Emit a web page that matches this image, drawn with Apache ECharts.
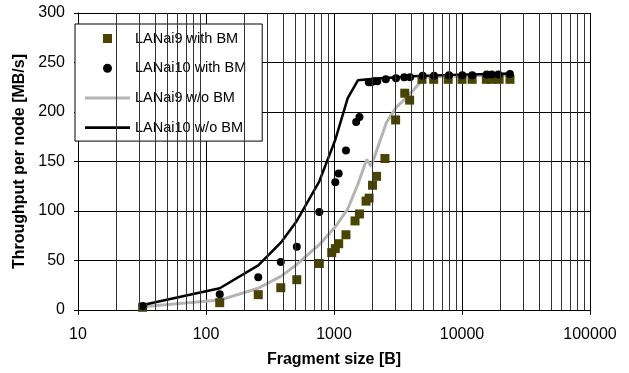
<!DOCTYPE html>
<html>
<head>
  <meta charset="utf-8">
  <script src="https://cdn.jsdelivr.net/npm/echarts@6/dist/echarts.min.js"></script>
  <style>
    html, body { margin: 0; padding: 0; background: #fff; }
    #main { width: 629px; height: 373px; }
  </style>
</head>
<body>
<div id="main"></div>
<script>
  // fragment size [B] / throughput [MB/s]
  const lanai9BmX = [32, 128, 256, 384, 512, 768, 960, 1024, 1088, 1240, 1460, 1580, 1780, 1880, 2000, 2150, 2500, 3030, 3570, 3900, 4870, 6010, 7800, 10000, 12000, 15500, 17000, 19500, 23700];
  const lanai9BmY = [2.7, 7.4, 15.5, 22.5, 30.6, 47, 58, 62, 67, 76, 90, 97, 110, 113, 126, 135, 153, 192, 219, 212, 233, 233, 233, 233, 233, 233, 233, 233, 233];

  const lanai10BmX = [32, 128, 256, 384, 512, 768, 1024, 1088, 1240, 1490, 1580, 1870, 1950, 2050, 2180, 2540, 3050, 3540, 3930, 4930, 6040, 7910, 10050, 12030, 15590, 17060, 19230, 23700];
  const lanai10BmY = [4, 16, 33, 48.5, 64, 99, 129, 138, 161, 190, 195, 230, 230, 231, 231, 233, 234, 235, 235, 236.5, 236.5, 237, 237, 237, 238, 238, 238, 238.5];

  const lanai9NoBmX = [32, 128, 256, 384, 512, 768, 1024, 1280, 1536, 1800, 1950, 2560, 3072, 3584, 4096, 5120, 8192, 16384, 24576];
  const lanai9NoBmY = [3.4, 10, 22, 34, 46, 66, 84, 102, 127, 152, 145, 189, 205, 213, 221, 235, 236, 237, 237];

  const lanai10NoBmX = [32, 128, 256, 384, 512, 768, 1024, 1280, 1536, 2048, 4096, 8192, 16384, 24576];
  const lanai10NoBmY = [5, 22, 45, 68, 90, 130, 172, 214, 232, 233.5, 236, 237.5, 238.5, 239];

  const seriesNames = ['LANai9 with BM', 'LANai10 with BM', 'LANai9 w/o BM', 'LANai10 w/o BM'];
  const minorGrid = [20, 30, 40, 50, 60, 70, 80, 90, 200, 300, 400, 500, 600, 700, 800, 900,
    2000, 3000, 4000, 5000, 6000, 7000, 8000, 9000, 20000, 30000, 40000, 50000, 60000, 70000, 80000, 90000];

  const pairs = (xs, ys) => xs.map((x, i) => [x, ys[i]]);
  const font = 'Liberation Sans, Arial, sans-serif';

  const myChart = echarts.init(document.getElementById('main'));
  myChart.setOption({
    animation: false,
    textStyle: { fontFamily: font, color: '#000' },
    grid: { left: 78, right: 39, top: 13, bottom: 63 },
    legend: {
      orient: 'vertical',
      left: 75,
      top: 24,
      padding: [7, 16, 6, 10],
      itemWidth: 45,
      itemHeight: 9,
      itemGap: 14.7,
      symbolKeepAspect: true,
      selectedMode: false,
      backgroundColor: '#fff',
      borderColor: '#000',
      borderWidth: 1,
      borderRadius: 0,
      textStyle: { fontFamily: font, fontSize: 14.5, color: '#000', lineHeight: 14 },
      data: [
        { name: seriesNames[0], icon: 'path://M0,0h10v10h-10z' },
        { name: seriesNames[1], icon: 'circle' },
        { name: seriesNames[2], icon: 'path://M0,0h45v3h-45z' },
        { name: seriesNames[3], icon: 'path://M0,0h45v2.6h-45z' }
      ]
    },
    xAxis: {
      type: 'log',
      logBase: 10,
      min: 10,
      max: 100000,
      name: 'Fragment size [B]',
      nameLocation: 'middle',
      nameGap: 42,
      nameTextStyle: { fontFamily: font, fontSize: 16, fontWeight: 'bold', color: '#000' },
      axisLine: { lineStyle: { color: '#000', width: 1 } },
      axisTick: { show: true, length: 5, lineStyle: { color: '#000' } },
      axisLabel: { fontFamily: font, fontSize: 16, color: '#000', margin: 17, formatter: v => String(Math.round(v)) },
      splitLine: { show: true, lineStyle: { color: '#000', width: 1 } }
    },
    yAxis: {
      type: 'value',
      min: 0,
      max: 300,
      interval: 50,
      name: 'Throughput per node [MB/s]',
      nameLocation: 'middle',
      nameGap: 46,
      nameTextStyle: { fontFamily: font, fontSize: 16, fontWeight: 'bold', color: '#000' },
      axisLine: { show: true, lineStyle: { color: '#000', width: 1 } },
      axisTick: { show: true, length: 4, lineStyle: { color: '#000' } },
      axisLabel: { fontFamily: font, fontSize: 16, color: '#000', margin: 13 },
      splitLine: { show: true, lineStyle: { color: '#000', width: 1 } }
    },
    series: [
      {
        // minor log grid lines
        name: 'minor',
        type: 'line',
        data: [],
        z: 1,
        silent: true,
        markLine: {
          silent: true,
          symbol: ['none', 'none'],
          label: { show: false },
          lineStyle: { color: '#333', width: 1, type: 'solid' },
          emphasis: { disabled: true },
          data: minorGrid.map(v => ({ xAxis: v }))
        }
      },
      {
        name: seriesNames[2],
        type: 'line',
        data: pairs(lanai9NoBmX, lanai9NoBmY),
        symbol: 'none',
        showSymbol: false,
        lineStyle: { color: '#b4b4b4', width: 3 },
        itemStyle: { color: '#b4b4b4' },
        z: 3
      },
      {
        name: seriesNames[3],
        type: 'line',
        data: pairs(lanai10NoBmX, lanai10NoBmY),
        symbol: 'none',
        showSymbol: false,
        lineStyle: { color: '#000', width: 2.5 },
        itemStyle: { color: '#000' },
        z: 3
      },
      {
        name: seriesNames[0],
        type: 'scatter',
        symbol: 'rect',
        symbolSize: 9,
        data: pairs(lanai9BmX, lanai9BmY),
        itemStyle: { color: '#494400', opacity: 1 },
        z: 4
      },
      {
        name: seriesNames[1],
        type: 'scatter',
        symbol: 'circle',
        symbolSize: 8,
        data: pairs(lanai10BmX, lanai10BmY),
        itemStyle: { color: '#000', opacity: 1 },
        z: 4
      }
    ]
  });
</script>
</body>
</html>
